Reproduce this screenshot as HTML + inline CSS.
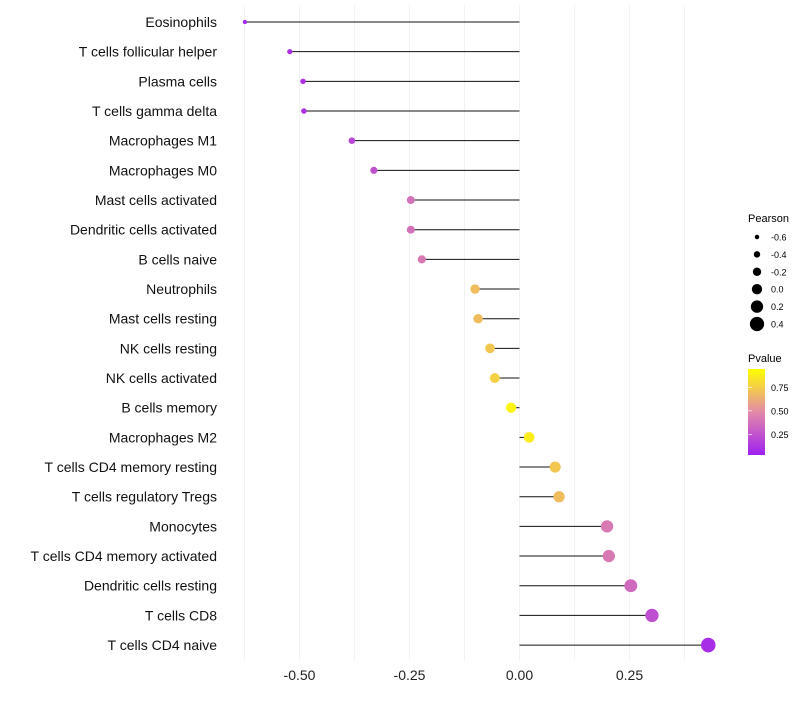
<!DOCTYPE html>
<html><head><meta charset="utf-8"><style>
body{margin:0;background:#fff;font-family:"Liberation Sans",sans-serif;}
svg text{font-family:"Liberation Sans",sans-serif;}
</style></head><body>
<svg id="chart" width="800" height="700">
<defs><linearGradient id="pg" x1="0" y1="1" x2="0" y2="0">
<stop offset="0" stop-color="#A020F0"/><stop offset="0.5" stop-color="#E38AA8"/><stop offset="1" stop-color="#FFFF00"/>
</linearGradient></defs>
<g id="grid"></g><g id="marks"></g><g id="labels"></g>
<g>
<text x="748" y="222" font-size="11">Pearson</text>
<g id="sizeleg"></g>
<text x="748" y="362" font-size="11">Pvalue</text>
<rect x="748" y="369" width="17" height="86" fill="url(#pg)"/>
<g id="pleg"></g>
</g>
</svg>
<script>
const categories=["Eosinophils","T cells follicular helper","Plasma cells","T cells gamma delta","Macrophages M1","Macrophages M0","Mast cells activated","Dendritic cells activated","B cells naive","Neutrophils","Mast cells resting","NK cells resting","NK cells activated","B cells memory","Macrophages M2","T cells CD4 memory resting","T cells regulatory  Tregs ","Monocytes","T cells CD4 memory activated","Dendritic cells resting","T cells CD8","T cells CD4 naive"];
const pearson=[-0.624,-0.522,-0.492,-0.49,-0.381,-0.331,-0.247,-0.247,-0.222,-0.101,-0.094,-0.067,-0.056,-0.019,0.022,0.081,0.09,0.199,0.203,0.253,0.301,0.429];
const pvalue=[0.03,0.08,0.09,0.09,0.18,0.23,0.38,0.38,0.42,0.72,0.72,0.76,0.8,0.95,0.92,0.76,0.72,0.42,0.42,0.35,0.22,0.06];
const xTicks=[-0.5,-0.25,0,0.25];
const xTickLabels=["-0.50","-0.25","0.00","0.25"];
const sizeLegend=[-0.6,-0.4,-0.2,0.0,0.2,0.4];
const sizeLegendLabels=["-0.6","-0.4","-0.2","0.0","0.2","0.4"];
const pTicks=[0.25,0.5,0.75];
const pTickLabels=["0.25","0.50","0.75"];
const NS="http://www.w3.org/2000/svg";
const x=v=>519.5+v*440;
const y=i=>22+i*29.67;
const r=v=>2+(v+0.65)*4.9;
const pY=p=>455-(p-0.03)*94;
function lerp(a,b,t){return a.map((c,k)=>Math.round(c+(b[k]-c)*t));}
function col(p){const A=[160,32,240],M=[227,138,168],B=[255,255,0];const c=p<0.5?lerp(A,M,p/0.5):lerp(M,B,(p-0.5)/0.5);return `rgb(${c})`;}
function mk(t,at,parent){const e=document.createElementNS(NS,t);for(const k in at)e.setAttribute(k,at[k]);parent.appendChild(e);return e;}
const grid=document.getElementById('grid'),marks=document.getElementById('marks'),labels=document.getElementById('labels');
for(let g=-0.625;g<=0.4;g+=0.125){const l=mk('line',{x1:x(g),x2:x(g),y1:5,y2:660,stroke:'#f2f2f2','stroke-width':1},grid);

}
xTicks.forEach((t,i)=>{const e=mk('text',{x:x(t),y:680,'font-size':14,'text-anchor':'middle',fill:'#222'},labels);e.textContent=xTickLabels[i];

});
categories.forEach((c,i)=>{
const t=mk('text',{x:217,y:y(i)+5,'font-size':14,'text-anchor':'end',fill:'#111'},labels);t.textContent=c;


const l=mk('line',{x1:x(0),x2:x(pearson[i]),y1:y(i),y2:y(i),stroke:'#111','stroke-width':1},marks);


const d=mk('circle',{cx:x(pearson[i]),cy:y(i),r:r(pearson[i]),fill:col(pvalue[i])},marks);


});
const sl=document.getElementById('sizeleg');
sizeLegend.forEach((v,i)=>{const cy=237+i*17.4;
const c=mk('circle',{cx:757,cy:cy,r:r(v),fill:'#000'},sl);


const t=mk('text',{x:771,y:cy+3.5,'font-size':9},sl);t.textContent=sizeLegendLabels[i];

});
const pl=document.getElementById('pleg');
pTicks.forEach((p,i)=>{
const l=mk('line',{x1:748,x2:752,y1:pY(p),y2:pY(p),stroke:'#fff','stroke-width':0.6},pl);


const t=mk('text',{x:771,y:pY(p)+3.5,'font-size':9},pl);t.textContent=pTickLabels[i];

});
</script>
</body></html>
